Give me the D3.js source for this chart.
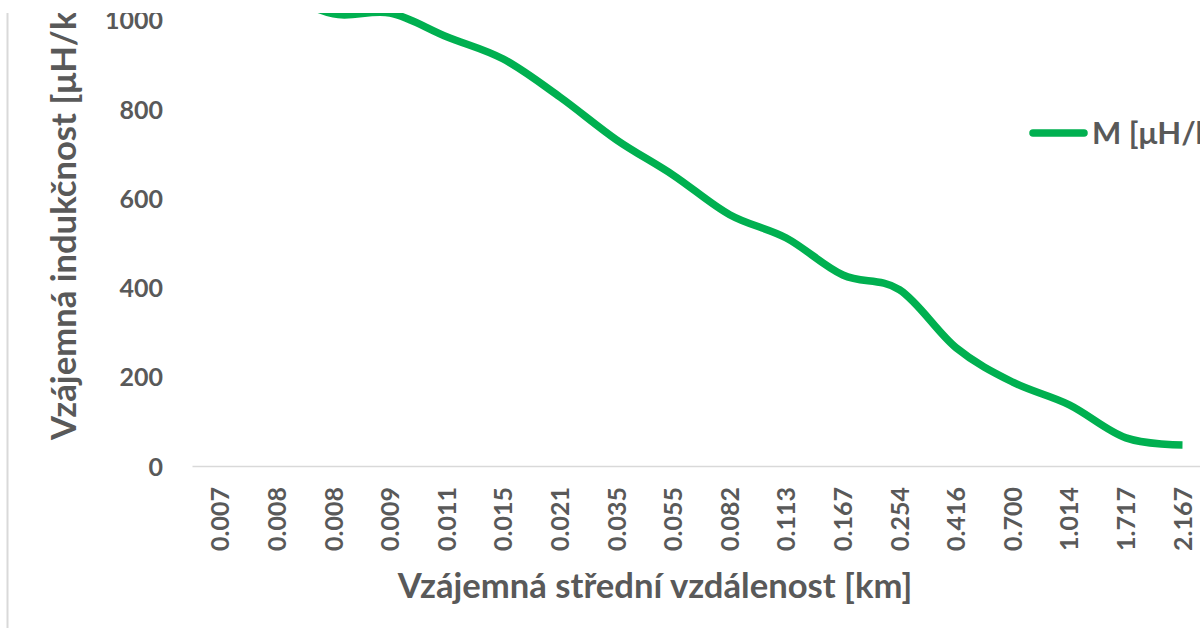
<!DOCTYPE html>
<html>
<head>
<meta charset="utf-8">
<script src="https://cdn.jsdelivr.net/npm/d3@7"></script>
<style>
  html, body { margin: 0; padding: 0; background: #fff; }
  svg { display: block; }
  text { font-family: Lato, "Open Sans", sans-serif; font-weight: 700; fill: #595959; }
</style>
</head>
<body>
<svg id="chart" width="1200" height="628"></svg>
<script>
// ---- data ----
const categories = ["0.007","0.008","0.008","0.009","0.011","0.015","0.021","0.035","0.055","0.082","0.113","0.167","0.254","0.416","0.700","1.014","1.717","2.167"];
const valuesM = [1150, 1070, 1013, 1015, 962, 912, 827, 731, 652, 563, 511, 428, 395, 265, 188, 137, 63, 47];
const yTicks = [0, 200, 400, 600, 800, 1000];
const seriesName = "M [μH/km]";
const xTitle = "Vzájemná střední vzdálenost [km]";
const yTitle = "Vzájemná indukčnost [μH/km]";

const svg = d3.select("#chart");
const W = 1200, H = 628;

svg.append("defs").append("clipPath").attr("id", "crop")
  .append("rect").attr("x", 0).attr("y", 13).attr("width", W).attr("height", H - 13);

const g = svg.append("g").attr("clip-path", "url(#crop)");

// chart border (left edge visible)
g.append("line").attr("x1", 7.5).attr("x2", 7.5).attr("y1", 0).attr("y2", H)
  .attr("stroke", "#d9d9d9").attr("stroke-width", 2);

const idx = categories.map((d, i) => i);
const x = d3.scaleBand().domain(idx).range([192, 192 + 18 * 56.6]).padding(0);
const y = d3.scaleLinear().domain([0, 1000]).range([466, 19.75]);

// y axis labels
const yAxis = d3.axisLeft(y).tickValues(yTicks).tickSize(0).tickPadding(0).tickFormat(d3.format("d"));
const ya = g.append("g").attr("transform", "translate(163,0)").call(yAxis);
ya.select(".domain").remove();
ya.selectAll("text").attr("font-size", 25).attr("font-family", null).attr("fill", "#595959").attr("dy", "0.36em");

// x axis line
const xAxis = d3.axisBottom(x).tickSize(0).tickFormat(i => categories[i]);
const xa = g.append("g").attr("transform", "translate(0,466)").call(xAxis);
xa.select(".domain").attr("stroke", "#d9d9d9").attr("stroke-width", 1.5);
xa.selectAll(".tick text")
  .attr("font-size", 25).attr("font-family", null).attr("fill", "#595959")
  .attr("transform", "rotate(-90)")
  .attr("x", -21).attr("y", 0).attr("dy", "0.36em")
  .attr("text-anchor", "end");

// line
const line = d3.line()
  .x((d, i) => x(i) + x.bandwidth() / 2)
  .y(d => y(d))
  .curve(d3.curveCardinal.tension(0));
g.append("path").datum(valuesM)
  .attr("d", line)
  .attr("fill", "none")
  .attr("stroke", "#00B050")
  .attr("stroke-width", 7.5)
  .attr("stroke-linejoin", "round");

// axis titles
const xt = g.append("text").attr("x", 655).attr("y", 598)
  .attr("text-anchor", "middle").attr("font-size", 32).text(xTitle);
const len = xt.node().getComputedTextLength();
const fs = 32 * 515 / len;
xt.attr("font-size", fs);

g.append("text")
  .attr("transform", "translate(76,440) rotate(-90)")
  .attr("text-anchor", "start").attr("font-size", fs).text(yTitle);

// legend
g.append("line").attr("x1", 1033).attr("x2", 1084).attr("y1", 133).attr("y2", 133)
  .attr("stroke", "#00B050").attr("stroke-width", 7.5).attr("stroke-linecap", "round");
g.append("text").attr("x", 1092).attr("y", 144).attr("font-size", 31).text(seriesName);
</script>
</body>
</html>
